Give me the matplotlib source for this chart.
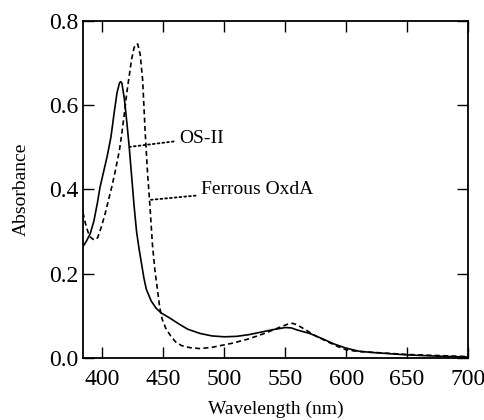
import matplotlib.pyplot as plt

plt.rcParams['font.family'] = ['Liberation Serif', 'DejaVu Serif']

# OS-II (solid)
wl_os = [384, 387, 390, 393, 396, 398, 400, 404, 407, 410, 412, 414, 415, 416, 418,
         420, 422, 424, 426, 428, 430, 432, 434, 436, 440, 444, 448, 455, 463, 470,
         480, 490, 500, 510, 520, 530, 540, 550, 555, 560, 570, 580, 590, 600, 610,
         620, 635, 650, 675, 700]
abs_os = [0.264, 0.278, 0.295, 0.325, 0.37, 0.405, 0.43, 0.48, 0.525, 0.59, 0.63, 0.653,
          0.656, 0.652, 0.615, 0.56, 0.50, 0.43, 0.36, 0.30, 0.26, 0.225, 0.19, 0.163,
          0.135, 0.118, 0.107, 0.095, 0.08, 0.068, 0.058, 0.052, 0.05, 0.051, 0.055,
          0.061, 0.067, 0.072, 0.071, 0.066, 0.058, 0.046, 0.033, 0.023, 0.016, 0.013,
          0.01, 0.007, 0.004, 0.002]

# Ferrous OxdA (dashed)
wl_ox = [384, 386, 388, 390, 393, 396, 399, 402, 405, 408, 411, 414, 416, 418, 420,
         422, 424, 426, 428, 429, 431, 433, 435, 437, 439, 441, 443, 445, 447, 449,
         452, 456, 460, 465, 472, 480, 490, 507, 520, 534, 545, 552, 556, 560, 567,
         575, 585, 593, 600, 610, 622, 650, 700]
abs_ox = [0.345, 0.32, 0.30, 0.287, 0.28, 0.285, 0.31, 0.34, 0.375, 0.41, 0.45, 0.494,
          0.535, 0.58, 0.63, 0.67, 0.71, 0.737, 0.746, 0.745, 0.72, 0.66, 0.54, 0.44,
          0.36, 0.27, 0.21, 0.165, 0.12, 0.092, 0.07, 0.052, 0.038, 0.029, 0.024,
          0.022, 0.025, 0.035, 0.045, 0.059, 0.072, 0.08, 0.082, 0.078, 0.066, 0.052,
          0.038, 0.027, 0.019, 0.015, 0.013, 0.008, 0.003]

fig = plt.figure(figsize=(4.85, 4.20), dpi=100)
ax = fig.add_axes([0.171, 0.148, 0.794, 0.802])

ax.plot(wl_os, abs_os, color='black', lw=1.2)
ax.plot(wl_ox, abs_ox, color='black', lw=1.2, ls=(0, (3, 2)))

ax.annotate('OS-II', xy=(422.2, 0.501), xytext=(463, 0.522), fontsize=14,
            va='center', ha='left',
            arrowprops=dict(arrowstyle='-', ls=':', lw=1.3, color='black',
                            shrinkA=2, shrinkB=0))
ax.annotate('Ferrous OxdA', xy=(438.6, 0.375), xytext=(481, 0.399), fontsize=14,
            va='center', ha='left',
            arrowprops=dict(arrowstyle='-', ls=':', lw=1.3, color='black',
                            shrinkA=2, shrinkB=0))

ax.set_xlim(384, 700)
ax.set_ylim(0, 0.8)
ax.set_xticks([400, 450, 500, 550, 600, 650, 700])
ax.set_yticks([0.0, 0.2, 0.4, 0.6, 0.8])
ax.set_yticklabels(['0.0', '0.2', '0.4', '0.6', '0.8'])
ax.tick_params(direction='in', length=8, width=1, top=True, right=True,
               labelsize=17)
ax.tick_params(axis='x', pad=8)
ax.tick_params(axis='y', pad=3)
for s in ax.spines.values():
    s.set_linewidth(1.3)

ax.set_xlabel('Wavelength (nm)', fontsize=14, labelpad=8)
ax.set_ylabel('Absorbance', fontsize=14, labelpad=14)

fig.savefig('out.png', dpi=100)
